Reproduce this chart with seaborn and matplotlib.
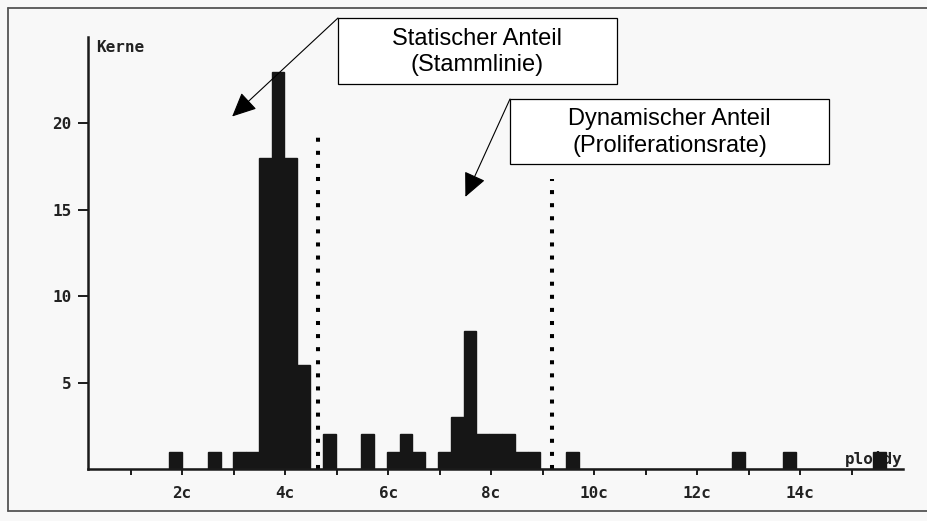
import numpy as np
import pandas as pd
import matplotlib
matplotlib.use("Agg")
import matplotlib.pyplot as plt
import seaborn as sns
from matplotlib.patches import Rectangle
from matplotlib.lines import Line2D

# DNA histogram: bin centres (c units) and number of nuclei per bin
ploidy = [1.87, 2.62, 3.12, 3.37, 3.61, 3.86, 4.11, 4.36, 4.86, 5.60,
          6.10, 6.35, 6.60, 7.09, 7.34, 7.59, 7.84, 8.09, 8.33, 8.58,
          8.83, 9.58, 12.81, 13.80, 15.54]
kerne = [1, 1, 1, 1, 18, 23, 18, 6, 2, 2,
         1, 2, 1, 1, 3, 8, 2, 2, 2, 1,
         1, 1, 1, 1, 1]

# Channel grid of the cytometer histogram
bin_start = 1.75
bin_width = 0.2485
n_bins = 56

# Dotted limits separating the stem line and the proliferating fraction
limit_c = [4.63, 9.18]
limit_top = [19.5, 16.8]

y_ticks = [5, 10, 15, 20]
x_major = [2, 4, 6, 8, 10, 12, 14]
x_major_labels = ["2c", "4c", "6c", "8c", "10c", "12c", "14c"]
x_minor = [1, 3, 5, 7, 9, 11, 13, 15]

W, H = 928, 521
BG = "#f8f8f8"
INK = "#161616"


def fx(px):
    return px / W


def fy(py):
    return 1 - py / H


sns.set_theme(style="white")
plt.rcParams["font.family"] = ["DejaVu Sans Mono", "DejaVu Sans"]

fig = plt.figure(figsize=(W / 100, H / 100), dpi=100, facecolor=BG)
ax = fig.add_axes([fx(88), fy(469), fx(903) - fx(88), fy(37) - fy(469)])
ax.set_facecolor(BG)

df = pd.DataFrame({"ploidy": ploidy, "kerne": kerne})
sns.histplot(data=df, x="ploidy", weights="kerne", bins=n_bins,
             binrange=(bin_start, bin_start + n_bins * bin_width),
             color=INK, alpha=1, edgecolor=INK, linewidth=1.0, ax=ax, zorder=3)

for c, top in zip(limit_c, limit_top):
    ax.plot([c, c], [0, top], color="black", lw=2.9,
            linestyle=(0, (1, 2.25)), dash_capstyle="butt", zorder=4)

ax.set_xlim(0.17, 16.0)
ax.set_ylim(0, 25.0)
ax.set_xlabel("")
ax.set_ylabel("")

for side in ("top", "right"):
    ax.spines[side].set_visible(False)
for side in ("left", "bottom"):
    ax.spines[side].set_color("#1a1a1a")
    ax.spines[side].set_linewidth(1.8)
    ax.spines[side].set_zorder(5)

ax.set_yticks(y_ticks)
ax.set_yticklabels([str(v) for v in y_ticks])
ax.set_xticks(x_major)
ax.set_xticklabels(x_major_labels)
ax.set_xticks(x_minor, minor=True)
ax.tick_params(axis="y", direction="out", length=7, width=1.4, color="#1a1a1a",
               pad=5, labelsize=11.5, labelcolor="#222222", left=True)
ax.tick_params(axis="x", which="both", direction="out", length=4, width=1.4,
               color="#1a1a1a", bottom=True)
ax.tick_params(axis="x", which="major", pad=8, labelsize=11.5, labelcolor="#222222")
for lab in ax.get_xticklabels() + ax.get_yticklabels():
    lab.set_fontweight("bold")

ax.text(0.010, 1.0 - 3 / 432, "Kerne", transform=ax.transAxes, ha="left",
        va="top", fontsize=11.5, fontweight="bold", color="#222222")
ax.text(16.0, 0.3, "ploidy", ha="right", va="baseline", fontsize=11.5,
        fontweight="bold", color="#222222", zorder=2)

# Scanned page frame
for xs, ys in (([8, 8], [8, 511]), ([8, W], [8, 8]), ([8, W], [511, 511])):
    fig.add_artist(Line2D([fx(v) for v in xs], [fy(v) for v in ys],
                          color="#555555", lw=1.3, transform=fig.transFigure))

# Callout boxes with arrows from their upper-left corner
boxes = [
    (338, 18, 617, 84, "Statischer Anteil\n(Stammlinie)", (2.97, 20.4)),
    (510, 99, 829, 164, "Dynamischer Anteil\n(Proliferationsrate)", (7.50, 15.75)),
]
for x0, y0, x1, y1, label, tip in boxes:
    fig.add_artist(Rectangle((fx(x0), fy(y1)), fx(x1) - fx(x0), fy(y0) - fy(y1),
                             transform=fig.transFigure, facecolor="white",
                             edgecolor="black", lw=0.9, zorder=6))
    fig.text(fx((x0 + x1) / 2), fy((y0 + y1) / 2 + 1), label, ha="center",
             va="center", fontsize=17, family=["Liberation Sans", "DejaVu Sans"],
             linespacing=1.25, color="black", zorder=7)
    ax.annotate("", xy=tip, xycoords="data",
                xytext=(fx(x0), fy(y0)), textcoords="figure fraction",
                arrowprops=dict(arrowstyle="-|>,head_length=1.5,head_width=0.7",
                                mutation_scale=10, lw=0.8, color="black",
                                shrinkA=0, shrinkB=0),
                zorder=6, annotation_clip=False)

fig.savefig("out.png", dpi=100, facecolor=BG)
